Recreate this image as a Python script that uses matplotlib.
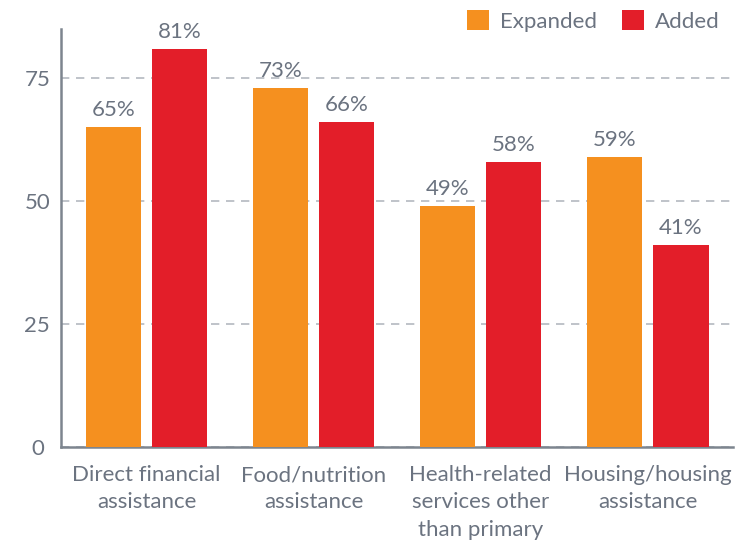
import numpy as np
import matplotlib
matplotlib.use("Agg")
import matplotlib.pyplot as plt

plt.rcParams["font.family"] = ["Lato", "DejaVu Sans"]

categories = ["Direct financial\nassistance", "Food/nutrition\nassistance",
              "Health-related\nservices other\nthan primary", "Housing/housing\nassistance"]
expanded = [65, 73, 49, 59]
added = [81, 66, 58, 41]
yticks = [0, 25, 50, 75]

ORANGE = "#F5901F"
RED = "#E31E29"
TEXT = "#6B7380"
AXIS = "#7D858F"
GRID = "#B4B9C0"
FS = 16

fig = plt.figure(figsize=(7.4, 5.43), dpi=100)
ax = fig.add_axes([0.0824, 0.1768, 0.9081, 0.7698])

x = np.arange(len(categories))
w = 0.33
off = 0.199
b1 = ax.bar(x - off, expanded, w, color=ORANGE, label="Expanded", zorder=3)
b2 = ax.bar(x + off, added, w, color=RED, label="Added", zorder=3)

for bars, vals in ((b1, expanded), (b2, added)):
    for r, v in zip(bars, vals):
        ax.annotate(f"{v}%", (r.get_x() + r.get_width() / 2, v),
                    xytext=(0, 5), textcoords="offset points",
                    ha="center", va="bottom", fontsize=FS, color=TEXT)

ax.set_xlim(-0.512, 3.51)
ax.set_ylim(0, 85)
ax.set_yticks(yticks)
ax.set_xticks(x)
ax.set_xticklabels(categories, fontsize=FS, color=TEXT, linespacing=1.46)
ax.tick_params(axis="y", length=0, pad=17, labelsize=FS, labelcolor=TEXT)
ax.tick_params(axis="x", length=0, pad=13)
for t in ax.get_yticklabels():
    t.set_horizontalalignment("center")

ax.yaxis.grid(True, linestyle=(0, (5, 4)), color=GRID, linewidth=1.2, zorder=0)
ax.spines["top"].set_visible(False)
ax.spines["right"].set_visible(False)
ax.spines["left"].set_color(AXIS)
ax.spines["bottom"].set_color(AXIS)
ax.spines["left"].set_linewidth(1.8)
ax.spines["bottom"].set_linewidth(1.8)

leg = fig.legend(loc="upper right", bbox_to_anchor=(1.0, 1.018), ncol=2,
                 frameon=False, fontsize=FS, handlelength=1.0, handleheight=1.0,
                 handletextpad=0.5, columnspacing=1.1)
for t in leg.get_texts():
    t.set_color(TEXT)

fig.savefig("out.png", dpi=100)
